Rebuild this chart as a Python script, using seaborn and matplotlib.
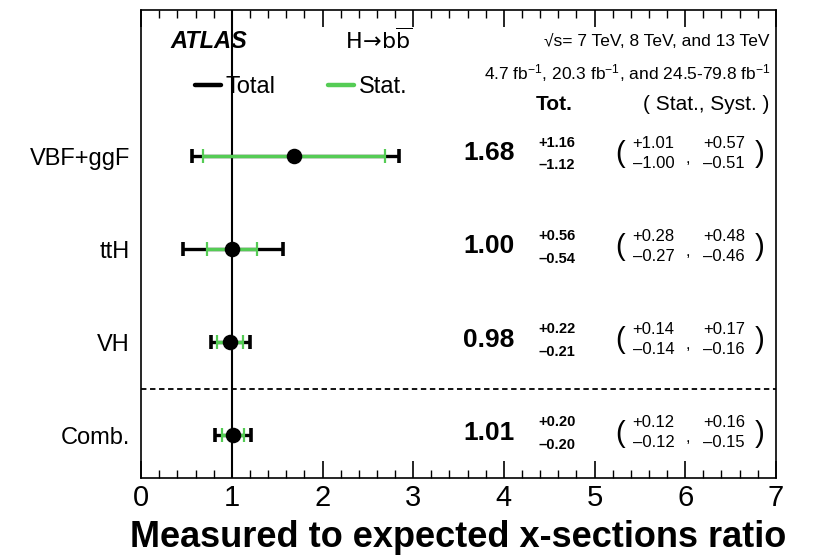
import numpy as np
import pandas as pd
import seaborn as sns
import matplotlib.pyplot as plt
from matplotlib.lines import Line2D
from matplotlib.ticker import MultipleLocator

# ----------------------------------------
# Data (read off the ATLAS H->bb summary plot)
# ----------------------------------------
categories = ["VBF+ggF", "ttH", "VH", "Comb."]
mu = [1.68, 1.00, 0.98, 1.01]
tot_up = [1.16, 0.56, 0.22, 0.20]
tot_dn = [1.12, 0.54, 0.21, 0.20]
stat_up = [1.01, 0.28, 0.14, 0.12]
stat_dn = [1.00, 0.27, 0.14, 0.12]
syst_up = [0.57, 0.48, 0.17, 0.16]
syst_dn = [0.51, 0.46, 0.16, 0.15]

ypos = [3, 2, 1, 0]

df = pd.DataFrame({"category": categories, "mu": mu, "y": ypos})

# ----------------------------------------
# Style
# ----------------------------------------
sns.set_style("ticks")
plt.rcParams["font.family"] = ["Liberation Sans", "DejaVu Sans"]
plt.rcParams["mathtext.fontset"] = "custom"
plt.rcParams["mathtext.rm"] = "Liberation Sans"
plt.rcParams["mathtext.it"] = "Liberation Sans:italic"
plt.rcParams["mathtext.bf"] = "Liberation Sans:bold"
for key in ["text.color", "axes.labelcolor", "xtick.color", "ytick.color", "axes.edgecolor"]:
    plt.rcParams[key] = "black"

GREEN = "#55cc55"

fig = plt.figure(figsize=(8.21, 5.58), dpi=100)
ax = fig.add_axes([0.172, 0.143, 0.773, 0.839])

# reference lines
ax.axvline(1.0, color="black", lw=1.5, zorder=1)
ax.axhline(0.5, color="black", lw=1.3, ls=(0, (3, 2)), zorder=1)

# total and stat error bars
ax.errorbar(df["mu"], df["y"], xerr=[tot_dn, tot_up], fmt="none",
            ecolor="black", elinewidth=2.4, capsize=4.8, capthick=2.6, zorder=2)
ax.errorbar(df["mu"], df["y"], xerr=[stat_dn, stat_up], fmt="none",
            ecolor=GREEN, elinewidth=2.4, capsize=4.8, capthick=1.6, zorder=3)

sns.scatterplot(data=df, x="mu", y="y", ax=ax, color="black", s=125,
                edgecolor="black", linewidth=0, zorder=4, legend=False)

# ----------------------------------------
# Axes
# ----------------------------------------
ax.set_xlim(0, 7)
ax.set_ylim(-0.46, 4.57)
ax.xaxis.set_major_locator(MultipleLocator(1))
ax.xaxis.set_minor_locator(MultipleLocator(0.2))
ax.tick_params(axis="x", which="major", direction="in", length=12, width=1.2,
               top=True, labelsize=21, pad=4)
ax.tick_params(axis="x", which="minor", direction="in", length=6, width=1.0, top=True)

ax.set_yticks(ypos)
ax.set_yticklabels(categories, fontsize=17)
ax.tick_params(axis="y", which="both", length=0, pad=8)

for sp in ax.spines.values():
    sp.set_linewidth(1.2)

ax.set_xlabel("Measured to expected x-sections ratio", fontsize=26,
              fontweight="bold", labelpad=6)
ax.set_ylabel("")

# ----------------------------------------
# Labels and annotations
# ----------------------------------------
ax.text(0.32, 4.23, "ATLAS", fontsize=17, fontweight="bold", style="italic",
        va="center", ha="left")
ax.text(2.25, 4.23, r"$\mathrm{H}\!\rightarrow\!\mathrm{b}\overline{\mathrm{b}}$",
        fontsize=16, va="center", ha="left", math_fontfamily="dejavusans")
ax.text(6.93, 4.23, "√s= 7 TeV, 8 TeV, and 13 TeV", fontsize=12.5,
        va="center", ha="right")
ax.text(6.95, 3.89, r"4.7 fb$^{-1}$, 20.3 fb$^{-1}$, and 24.5-79.8 fb$^{-1}$",
        fontsize=12.5, va="center", ha="right")

handles = [Line2D([], [], color="black", lw=3.2),
           Line2D([], [], color=GREEN, lw=3.2)]
ax.legend(handles, ["Total", "Stat."], loc="center left",
          bbox_to_anchor=(0.07, 0.835), ncol=2, frameon=False, fontsize=17,
          handlelength=1.1, handletextpad=0.2, columnspacing=2.2,
          borderaxespad=0)

ax.text(4.56, 3.55, "Tot.", fontsize=15, fontweight="bold", va="center", ha="center")
ax.text(6.93, 3.55, "( Stat., Syst. )", fontsize=15, va="center", ha="right")

for i, y in enumerate(ypos):
    ax.text(4.12, y + 0.03, f"{mu[i]:.2f}", fontsize=19, fontweight="bold",
            va="center", ha="right")
    ax.text(4.38, y + 0.14, f"+{tot_up[i]:.2f}", fontsize=10.5, fontweight="bold",
            va="center", ha="left")
    ax.text(4.38, y - 0.10, f"\u2013{tot_dn[i]:.2f}", fontsize=10.5, fontweight="bold",
            va="center", ha="left")
    ax.text(5.28, y + 0.02, "(", fontsize=21, va="center", ha="center")
    ax.text(5.42, y + 0.14, f"+{stat_up[i]:.2f}", fontsize=12, va="center", ha="left")
    ax.text(5.42, y - 0.08, f"\u2013{stat_dn[i]:.2f}", fontsize=12, va="center", ha="left")
    ax.text(6.03, y - 0.02, ",", fontsize=12, va="center", ha="center")
    ax.text(6.20, y + 0.14, f"+{syst_up[i]:.2f}", fontsize=12, va="center", ha="left")
    ax.text(6.20, y - 0.08, f"\u2013{syst_dn[i]:.2f}", fontsize=12, va="center", ha="left")
    ax.text(6.82, y + 0.02, ")", fontsize=21, va="center", ha="center")

fig.savefig("out.png", dpi=100)
